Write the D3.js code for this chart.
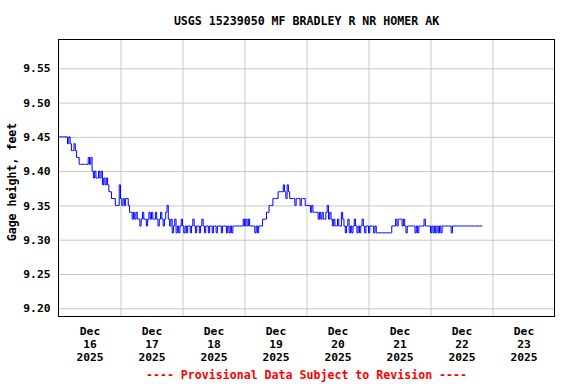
<!DOCTYPE html>
<html><head><meta charset="utf-8">
<script src="https://cdn.jsdelivr.net/npm/d3@7"></script>
<style>
body{margin:0;background:#fff;}
text{font-family:"DejaVu Sans Mono",monospace;font-weight:bold;}
</style></head><body>
<svg id="c" width="576" height="384"></svg>
<script>
const title = "USGS 15239050 MF BRADLEY R NR HOMER AK";
const yLabel = "Gage height, feet";
const footer = "---- Provisional Data Subject to Revision ----";
const yTicks = [9.20, 9.25, 9.30, 9.35, 9.40, 9.45, 9.50, 9.55];
const dayLabels = ["16", "17", "18", "19", "20", "21", "22", "23"];
const monthLabel = "Dec";
const yearLabel = "2025";
const startTime = Date.UTC(2025, 11, 16, 0, 0);
const stepMinutes = 30;
const gageHeight = [
9.45,9.45,9.45,9.45,9.45,9.45,9.45,9.44,9.45,9.44,9.43,9.43,9.44,9.43,9.42,9.42,
9.41,9.41,9.41,9.41,9.41,9.41,9.41,9.42,9.41,9.42,9.40,9.39,9.40,9.39,9.39,9.40,
9.39,9.40,9.38,9.39,9.38,9.39,9.38,9.37,9.37,9.36,9.36,9.36,9.35,9.35,9.35,9.38,
9.36,9.35,9.36,9.35,9.36,9.36,9.35,9.34,9.34,9.33,9.34,9.33,9.34,9.33,9.33,9.32,
9.33,9.34,9.33,9.33,9.32,9.33,9.34,9.33,9.34,9.33,9.33,9.34,9.33,9.32,9.33,9.34,
9.33,9.32,9.33,9.34,9.35,9.33,9.32,9.33,9.31,9.32,9.33,9.31,9.32,9.31,9.32,9.33,
9.32,9.31,9.32,9.31,9.32,9.32,9.31,9.32,9.33,9.32,9.31,9.32,9.32,9.31,9.32,9.33,
9.32,9.31,9.32,9.32,9.31,9.32,9.32,9.31,9.32,9.32,9.31,9.32,9.32,9.32,9.31,9.32,
9.32,9.32,9.31,9.32,9.31,9.32,9.31,9.32,9.32,9.32,9.32,9.32,9.32,9.32,9.32,9.33,
9.32,9.33,9.32,9.33,9.32,9.32,9.32,9.32,9.31,9.32,9.31,9.32,9.32,9.32,9.33,9.33,
9.33,9.34,9.34,9.35,9.35,9.35,9.36,9.36,9.36,9.36,9.37,9.37,9.37,9.37,9.38,9.37,
9.36,9.38,9.37,9.36,9.36,9.36,9.36,9.35,9.36,9.36,9.36,9.35,9.36,9.36,9.36,9.35,
9.35,9.35,9.35,9.34,9.35,9.34,9.34,9.34,9.34,9.33,9.34,9.33,9.34,9.33,9.33,9.34,
9.35,9.33,9.34,9.33,9.32,9.33,9.32,9.32,9.33,9.32,9.32,9.34,9.33,9.32,9.31,9.32,
9.33,9.31,9.32,9.31,9.32,9.33,9.32,9.31,9.32,9.31,9.32,9.33,9.32,9.31,9.32,9.32,
9.31,9.32,9.32,9.32,9.31,9.32,9.31,9.31,9.31,9.31,9.31,9.31,9.31,9.31,9.31,9.31,
9.31,9.31,9.32,9.32,9.32,9.33,9.32,9.33,9.33,9.33,9.32,9.33,9.32,9.31,9.32,9.32,
9.32,9.32,9.32,9.32,9.31,9.32,9.31,9.32,9.32,9.32,9.32,9.33,9.32,9.32,9.32,9.32,
9.31,9.32,9.31,9.32,9.31,9.32,9.31,9.32,9.31,9.32,9.32,9.32,9.32,9.32,9.32,9.32,
9.31,9.32,9.32,9.32,9.32,9.32,9.32,9.32,9.32,9.32,9.32,9.32,9.32,9.32,9.32,9.32,
9.32,9.32,9.32,9.32,9.32,9.32,9.32,9.32,9.32
];

const data = gageHeight.map((v, i) => ({t: new Date(startTime + i * stepMinutes * 60000), v}));

const svg = d3.select("#c");
const L = 58.5, T = 39.5, W = 496, H = 277;
const g = svg.append("g").attr("transform", `translate(${L},${T})`);

const x = d3.scaleUtc().domain([new Date(Date.UTC(2025,11,16)), new Date(Date.UTC(2025,11,24))]).range([0, W]);
const y = d3.scaleLinear().domain([9.188, 9.592]).range([H, 0]);

const midnights = d3.utcDay.range(new Date(Date.UTC(2025,11,17)), new Date(Date.UTC(2025,11,24)));
const noons = d3.utcDay.range(new Date(Date.UTC(2025,11,16)), new Date(Date.UTC(2025,11,24))).map(d => d3.utcHour.offset(d, 12));

// grid
const gx = g.append("g").attr("transform", `translate(0,${H})`)
  .call(d3.axisBottom(x).tickValues(midnights).tickSize(-H).tickFormat(""));
gx.select(".domain").remove();
gx.selectAll("line").attr("stroke", "#c8c8c8").attr("stroke-width", 1);

const gy = g.append("g")
  .call(d3.axisLeft(y).tickValues(yTicks).tickSize(-W).tickFormat(""));
gy.select(".domain").remove();
gy.selectAll("line").attr("stroke", "#c8c8c8").attr("stroke-width", 1);

// y labels
const ya = g.append("g").call(d3.axisLeft(y).tickValues(yTicks).tickSize(0).tickPadding(8).tickFormat(d3.format(".2f")));
ya.select(".domain").remove();
ya.selectAll("text").attr("font-size", "11.3px").attr("font-family", "DejaVu Sans Mono").attr("font-weight", "bold").attr("fill", "#000");

// x labels
const xa = g.append("g").attr("transform", `translate(0,${H})`)
  .call(d3.axisBottom(x).tickValues(noons).tickSize(0).tickFormat(""));
xa.select(".domain").remove();
xa.selectAll(".tick").each(function(d, i) {
  const t = d3.select(this).append("text").attr("fill", "#000").attr("text-anchor", "middle")
    .attr("font-size", "11.3px").attr("y", 18);
  t.append("tspan").attr("x", 0).attr("dy", 0).text(monthLabel);
  t.append("tspan").attr("x", 0).attr("dy", 13).text(dayLabels[i]);
  t.append("tspan").attr("x", 0).attr("dy", 13).text(yearLabel);
});

// line
g.append("path").datum(data)
  .attr("fill", "none").attr("stroke", "#0000ff").attr("stroke-width", 1)
  .attr("d", d3.line().curve(d3.curveStepAfter).x(d => x(d.t)).y(d => y(d.v)));

// frame
g.append("rect").attr("x", 0).attr("y", 0).attr("width", W).attr("height", H)
  .attr("fill", "none").attr("stroke", "#000").attr("stroke-width", 1);

svg.append("text").attr("x", L + W/2).attr("y", 25).attr("text-anchor", "middle")
  .attr("font-size", "11.6px").attr("fill", "#000").text(title);

svg.append("text").attr("transform", `translate(16,${T + H/2 + 4}) rotate(-90)`).attr("text-anchor", "middle")
  .attr("font-size", "11.6px").attr("fill", "#000").text(yLabel);

svg.append("text").attr("x", L + W/2).attr("y", 379).attr("text-anchor", "middle")
  .attr("font-size", "11.6px").attr("fill", "#ff0000").text(footer);
</script></body></html>
